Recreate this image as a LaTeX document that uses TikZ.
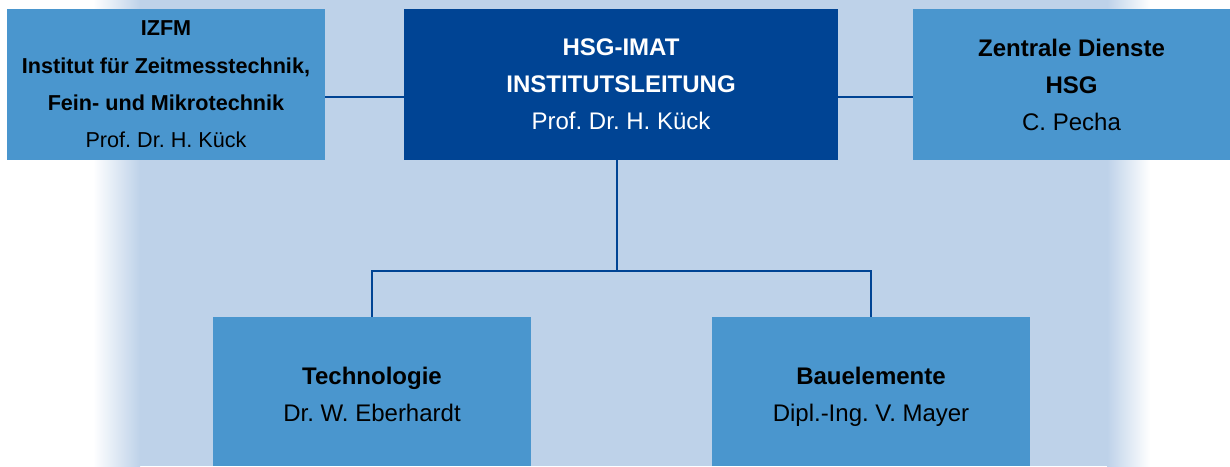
\documentclass[tikz,border=0pt]{standalone}
\usepackage{fontspec}
\setmainfont{Liberation Sans}
\frenchspacing
\usetikzlibrary{positioning}
\definecolor{orgback}{HTML}{BED2E9}
\definecolor{orgmid}{HTML}{4A96CE}
\definecolor{orgdark}{HTML}{004494}
\newcommand{\uptop}{\rule{0pt}{14pt}}
\newcommand{\downlow}{\rule[-2.6pt]{0pt}{0pt}}
\tikzset{
  unit/.style={fill=orgmid,minimum width=159pt,minimum height=75.5pt,inner sep=0pt,align=center,text=black,font=\fontsize{12}{18.5}\selectfont},
  head/.style={unit,fill=orgdark,text=white,minimum width=217pt},
  lower/.style={unit,minimum height=74.5pt},
  link/.style={draw=orgdark,line width=1pt},
}
\begin{document}
\begin{tikzpicture}[x=0.5pt,y=-0.5pt]
 \useasboundingbox (0,0) rectangle (1230,466);
 % background band
 \shade[left color=white,right color=orgback] (93,0) rectangle (140,466);
 \fill[orgback] (140,0) rectangle (1107,466);
 \shade[left color=orgback,right color=white] (1107,0) rectangle (1150,466);
 % boxes
 \node[head] (imat) at (621,84.5) {\textbf{HSG-IMAT}\\\textbf{INSTITUTSLEITUNG}\\Prof. Dr. H. Kück};
 \node[unit,font=\fontsize{10.8}{18.7}\selectfont] (izfm) at (166,84.5) {\textbf{IZFM}\\\textbf{Institut für Zeitmesstechnik,}\\\textbf{Fein- und Mikrotechnik}\\Prof. Dr. H. Kück};
 \node[unit,minimum width=158.5pt] (zd) at (1071.5,84.5) {\textbf{Zentrale Dienste}\\\textbf{HSG}\\C. Pecha};
 \node[lower] (tech) at (372,391.5) {\uptop\textbf{Technologie}\\Dr. W. Eberhardt\downlow};
 \node[lower] (bau) at (871,391.5) {\uptop\textbf{Bauelemente}\\Dipl.-Ing. V. Mayer\downlow};
 % connectors
 \draw[link] ([yshift=-6.25pt]izfm.east) -- ([yshift=-6.25pt]imat.west);
 \draw[link] ([yshift=-6.25pt]imat.east) -- ([yshift=-6.25pt]zd.west);
 \draw[link] ([xshift=-2pt]imat.south) -- ++(0,111) coordinate (fork);
 \draw[link] (fork) -| (tech.north);
 \draw[link] (fork) -| (bau.north);
\end{tikzpicture}
\end{document}
